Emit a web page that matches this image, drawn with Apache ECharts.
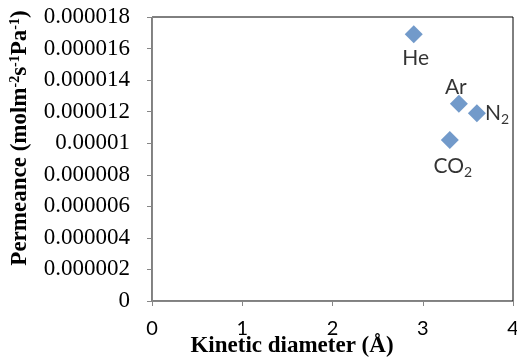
<!DOCTYPE html>
<html>
<head>
<meta charset="utf-8">
<script src="https://cdn.jsdelivr.net/npm/echarts@6/dist/echarts.min.js"></script>
<style>
  html, body { margin: 0; padding: 0; background: #fff; }
  #chart { width: 517px; height: 363px; }
</style>
</head>
<body>
<div id="chart"></div>
<script>
// data
const gases = ['He', 'Ar', 'N2', 'CO2'];
const diameters = [2.9, 3.4, 3.6, 3.3];
const permeances = [0.0000169, 0.0000125, 0.0000119, 0.0000102];
const labelTexts = ['He', 'Ar', 'N{sub|2}', 'CO{sub|2}'];

const serif = '"Liberation Serif", "Times New Roman", serif';
const sans = 'Lato, "Open Sans", sans-serif';
const blue = '#4F81BD';
const axisGray = '#868686';

// label placement per point (position, distance, offset)
const labelPlace = [
  { position: 'bottom', distance: 4, offset: [2, 0] },
  { position: 'top', distance: -3, offset: [-3, 0] },
  { position: 'right', distance: -1, offset: [0, 0] },
  { position: 'bottom', distance: 4, offset: [3, 0] }
];

const chart = echarts.init(document.getElementById('chart'));

const seriesData = gases.map((g, i) => ({
  name: g,
  value: [diameters[i], permeances[i]],
  label: Object.assign({ formatter: labelTexts[i] }, labelPlace[i])
}));

const option = {
  animation: false,
  grid: {
    left: 152,
    right: 4,
    top: 17,
    bottom: 62,
    show: true,
    borderColor: '#000',
    borderWidth: 1,
    outerBoundsMode: 'none'
  },
  xAxis: {
    type: 'value',
    min: 0,
    max: 4,
    interval: 1,
    splitLine: { show: false },
    axisLine: { lineStyle: { color: axisGray, width: 1 } },
    axisTick: { show: true, length: 5, lineStyle: { color: axisGray } },
    axisLabel: {
      fontFamily: sans,
      fontSize: 20,
      color: '#000',
      margin: 18
    }
  },
  yAxis: {
    type: 'value',
    min: 0,
    max: 0.000018,
    interval: 0.000002,
    splitLine: { show: false },
    axisLine: { show: true, lineStyle: { color: axisGray, width: 1 } },
    axisTick: { show: true, length: 5, lineStyle: { color: axisGray } },
    axisLabel: {
      fontFamily: serif,
      fontSize: 23,
      color: '#000',
      margin: 22,
      formatter: v => parseFloat(v.toFixed(6)).toString()
    }
  },
  series: [
    {
      type: 'scatter',
      symbol: 'diamond',
      symbolSize: 18,
      itemStyle: { color: blue },
      data: seriesData,
      label: {
        show: true,
        fontFamily: sans,
        fontSize: 21,
        color: '#000',
        rich: {
          sub: { fontFamily: sans, fontSize: 14, verticalAlign: 'bottom', padding: [12, 0, 0, 0] }
        }
      }
    }
  ],
  graphic: [
    {
      type: 'text',
      x: 20,
      y: 138,
      rotation: Math.PI / 2,
      style: {
        text: 'Permeance (molm{sup|-2}s{sup|-1}Pa{sup|-1})',
        font: 'bold 23px ' + serif,
        fill: '#000',
        align: 'center',
        verticalAlign: 'middle',
        rich: {
          sup: { font: 'bold 14px ' + serif, verticalAlign: 'top', padding: [0, 0, 10, 0] }
        }
      }
    },
    {
      type: 'text',
      x: 292,
      y: 346,
      style: {
        text: 'Kinetic diameter (Å)',
        font: 'bold 23px ' + serif,
        fill: '#000',
        align: 'center',
        verticalAlign: 'middle'
      }
    }
  ]
};

chart.setOption(option);
</script>
</body>
</html>
